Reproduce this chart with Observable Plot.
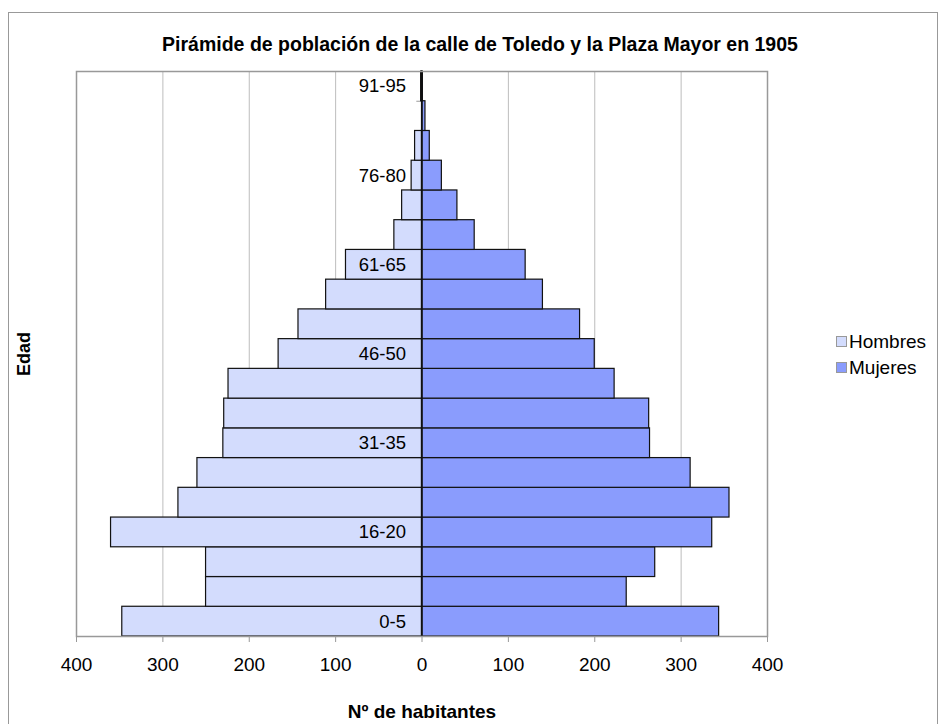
<!DOCTYPE html>
<html><head><meta charset="utf-8">
<script src="https://cdn.jsdelivr.net/npm/d3@7"></script>
<script src="https://cdn.jsdelivr.net/npm/@observablehq/plot@0.6"></script>
<style>
body{margin:0;background:#fff;font-family:"Liberation Sans",Arial,sans-serif;}
#wrap{position:relative;width:940px;height:724px;overflow:hidden;background:#fff;}
#border{position:absolute;left:8px;top:12px;width:930px;height:730px;border:1.5px solid #999;box-sizing:border-box;}
#chart{position:absolute;left:0;top:0;}
.t{position:absolute;white-space:nowrap;line-height:1;color:#000;}
#title{left:0;width:960px;top:34.5px;text-align:center;font-weight:bold;font-size:19.5px;}
#xlab{left:222px;width:400px;top:702px;text-align:center;font-weight:bold;font-size:19px;}
#ylab{left:24px;top:354px;font-weight:bold;font-size:18px;transform:translate(-50%,-50%) rotate(-90deg);}
.leg{position:absolute;left:836px;display:flex;align-items:flex-start;font-size:19px;line-height:1;}
.sw{width:11px;height:11px;border:1px solid #999;box-sizing:border-box;margin-top:4.5px;margin-right:2px;}
</style>
</head><body>
<div id="wrap">
  <div id="border"></div>
  <div id="chart"></div>
  <div class="t" id="title">Pirámide de población de la calle de Toledo y la Plaza Mayor en 1905</div>
  <div class="t" id="xlab">Nº de habitantes</div>
  <div class="t" id="ylab">Edad</div>
  <div class="leg" style="top:331.5px"><div class="sw" style="background:#d3dcfd"></div><span>Hombres</span></div>
  <div class="leg" style="top:357.5px"><div class="sw" style="background:#8a9cfd"></div><span>Mujeres</span></div>
</div>
<script>
const ages = ["0-5","6-10","11-15","16-20","21-25","26-30","31-35","36-40","41-45","46-50","51-55","56-60","61-65","66-70","71-75","76-80","81-85","86-90","91-95"];
const hombres = [347,250,250,360,282,260,230,229,224,166,143,111,88,32,23,12,8,0,1];
const mujeres = [344,237,270,336,356,311,264,263,223,200,183,140,120,61,41,23,9,4,1];
const labeledAges = ["0-5","16-20","31-35","46-50","61-65","76-80","91-95"];
const xTicks = [-400,-300,-200,-100,0,100,200,300,400];
const gridTicks = [-300,-200,-100,100,200,300];

const seriesColors = {Hombres: "#d3dcfd", Mujeres: "#8a9cfd"};

const rows = ages.map((a, i) => ({age: a, h: hombres[i], m: mujeres[i]}));

const marginTop = 71, marginBottom = 88;
const bandH = (724 - marginTop - marginBottom) / ages.length;

const chart = Plot.plot({
  width: 940,
  height: 724,
  marginLeft: 76,
  marginRight: 173,
  marginTop,
  marginBottom,
  style: {fontFamily: "'Liberation Sans', Arial, sans-serif", background: "transparent"},
  x: {domain: [-400, 400], axis: null},
  y: {domain: [...ages].reverse(), padding: 0, round: false, axis: null},
  marks: [
    Plot.gridX(gridTicks, {stroke: "#bdbdbd", strokeOpacity: 1, strokeWidth: 1}),
    Plot.ruleY(ages, {y: d => d, x1: -6, x2: 0, dy: -bandH / 2, stroke: "#999", strokeWidth: 1}),
    Plot.barX(rows, {y: "age", x1: 0, x2: d => -d.h, fill: seriesColors.Hombres, stroke: "#111", strokeWidth: 1.2}),
    Plot.barX(rows, {y: "age", x1: 0, x2: d => d.m, fill: seriesColors.Mujeres, stroke: "#111", strokeWidth: 1.2}),
    Plot.ruleX([0], {stroke: "#111", strokeWidth: 1.6}),
    Plot.frame({stroke: "#999", strokeWidth: 1.5}),
    Plot.axisX(xTicks, {tickFormat: d => Math.abs(d), tickSize: 6, tickPadding: 15, fontSize: 19, stroke: "#999", fill: "#000", label: null}),
    Plot.text(labeledAges, {x: 0, y: d => d, text: d => d, dx: -16, textAnchor: "end", fontSize: 18.5, fill: "#000"})
  ]
});
document.getElementById("chart").appendChild(chart);
</script>
</body></html>
